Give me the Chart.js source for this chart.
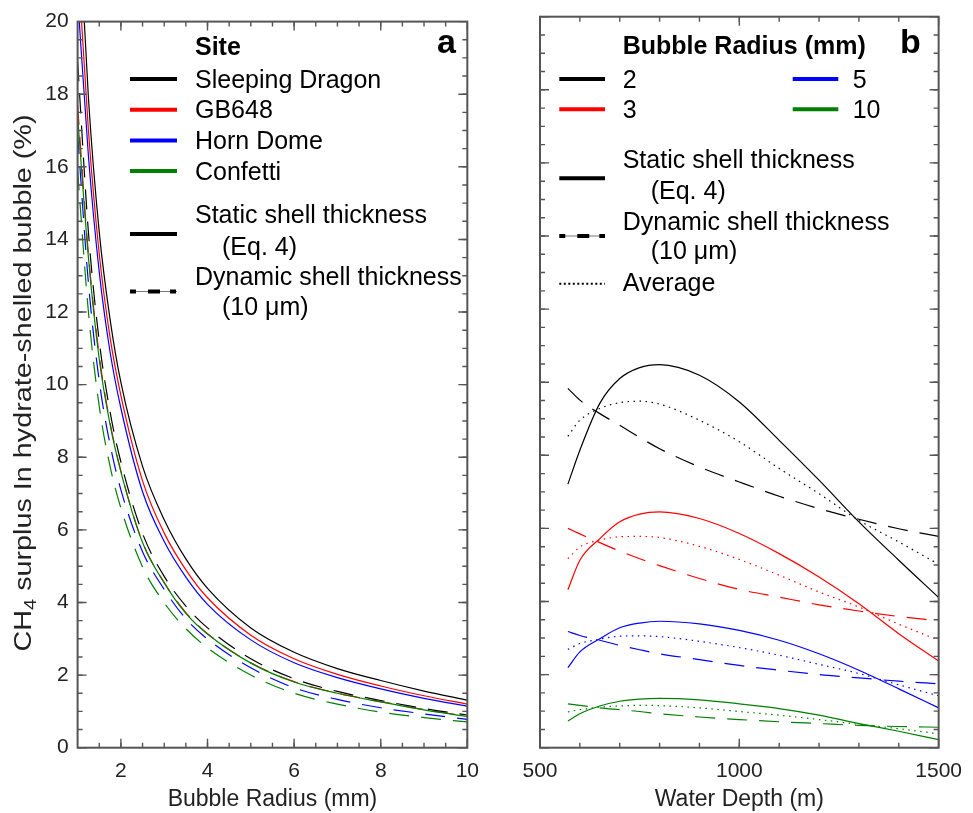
<!DOCTYPE html>
<html>
<head>
<meta charset="utf-8">
<script src="https://cdn.jsdelivr.net/npm/chart.js@4.4.1/dist/chart.umd.min.js"></script>
<style>
  body { margin: 0; background: #fff; }
  #wrap { position: relative; width: 973px; height: 813px; }
  #chartA { position: absolute; left: 0; top: 0; }
  #chartB { position: absolute; left: 490px; top: 0; }
</style>
</head>
<body>
<div id="wrap">
  <canvas id="chartA" width="490" height="813"></canvas>
  <canvas id="chartB" width="483" height="813"></canvas>
</div>
<script>
/* ---- panel a: CH4 surplus vs bubble radius, per site ---- */
const radius = [1, 1.25, 1.5, 1.75, 2, 2.5, 3, 3.5, 4, 5, 6, 7, 8, 9, 10];
const sites = ['Sleeping Dragon', 'GB648', 'Horn Dome', 'Confetti'];
const staticSD = [23.5, 17.9, 14.2, 11.8, 10.06, 7.75, 6.28, 5.2, 4.39, 3.30, 2.63, 2.18, 1.85, 1.56, 1.31];
const staticGB = [21.8, 17.0, 13.6, 11.3, 9.7, 7.35, 5.91, 4.9, 4.13, 3.10, 2.45, 2.02, 1.70, 1.43, 1.20];
const staticHD = [20.7, 16.3, 13.1, 10.9, 9.35, 7.05, 5.68, 4.7, 3.95, 2.97, 2.34, 1.93, 1.62, 1.36, 1.14];
const staticCF = [17.4, 13.5, 10.7, 8.9, 7.6, 5.65, 4.54, 3.7, 3.13, 2.33, 1.81, 1.50, 1.26, 1.04, 0.86];
const dynamicSD = [18.9, 14.2, 11.2, 9.25, 7.87, 5.9, 4.72, 3.9, 3.30, 2.45, 1.90, 1.55, 1.30, 1.08, 0.90];
const dynamicGB = [17.7, 13.6, 10.8, 8.95, 7.62, 5.66, 4.55, 3.72, 3.14, 2.34, 1.82, 1.50, 1.27, 1.05, 0.87];
const dynamicHD = [16.9, 12.8, 10.1, 8.35, 7.1, 5.4, 4.36, 3.55, 2.99, 2.2, 1.65, 1.33, 1.10, 0.93, 0.78];
const dynamicCF = [15.9, 12.0, 9.4, 7.75, 6.6, 4.98, 3.99, 3.28, 2.75, 2.0, 1.50, 1.20, 0.98, 0.83, 0.71];

/* ---- panel b: CH4 surplus vs water depth, per bubble radius ---- */
const depth = [570, 600, 650, 700, 750, 800, 900, 1000, 1100, 1200, 1300, 1400, 1500];
const radii = ['2', '3', '5', '10'];
const static2 = [7.21, 8.14, 9.42, 10.1, 10.4, 10.48, 10.19, 9.46, 8.41, 7.32, 6.18, 5.13, 4.11];
const dynamic2 = [9.83, 9.51, 9.14, 8.82, 8.49, 8.18, 7.68, 7.27, 6.88, 6.54, 6.25, 5.99, 5.78];
const average2 = [8.52, 8.96, 9.28, 9.44, 9.48, 9.40, 8.96, 8.37, 7.64, 6.95, 6.22, 5.63, 5.02];
const static3 = [4.32, 5.13, 5.72, 6.18, 6.39, 6.45, 6.27, 5.86, 5.31, 4.67, 3.94, 3.12, 2.37];
const dynamic3 = [6.00, 5.85, 5.61, 5.38, 5.17, 4.98, 4.63, 4.33, 4.12, 3.91, 3.74, 3.59, 3.47];
const average3 = [5.17, 5.49, 5.68, 5.77, 5.78, 5.75, 5.51, 5.15, 4.72, 4.26, 3.85, 3.38, 2.94];
const static5 = [2.19, 2.62, 2.98, 3.28, 3.41, 3.46, 3.39, 3.21, 2.94, 2.57, 2.12, 1.61, 1.09];
const dynamic5 = [3.18, 3.07, 2.94, 2.80, 2.68, 2.57, 2.41, 2.25, 2.12, 2.00, 1.91, 1.82, 1.75];
const average5 = [2.69, 2.85, 2.97, 3.05, 3.06, 3.04, 2.91, 2.74, 2.53, 2.28, 2.03, 1.72, 1.42];
const static10 = [0.73, 0.93, 1.14, 1.27, 1.33, 1.35, 1.31, 1.20, 1.07, 0.89, 0.66, 0.45, 0.22];
const dynamic10 = [1.20, 1.16, 1.09, 1.04, 0.99, 0.93, 0.84, 0.77, 0.71, 0.66, 0.61, 0.58, 0.56];
const average10 = [0.98, 1.04, 1.11, 1.14, 1.16, 1.15, 1.09, 0.99, 0.89, 0.77, 0.64, 0.52, 0.38];

/* ticks */
const xTicksA = [2, 4, 6, 8, 10];
const xTicksB = [500, 1000, 1500];
const yTicks = [0, 2, 4, 6, 8, 10, 12, 14, 16, 18, 20];

const colors = ['#000000', '#ff0000', '#0000ff', '#008000'];
const FONT = 'Liberation Sans, Arial, Helvetica, sans-serif';
const DASH = [20, 12];
const DOT = [1.5, 4.5];

function range(a, b, step){
  const out = [];
  for (let v = a; v <= b + 1e-9; v += step) out.push(+v.toFixed(4));
  return out;
}

function lineSet(label, xs, ys, color, dash){
  return {
    label: label,
    data: xs.map((x, i) => ({x: x, y: ys[i]})),
    borderColor: color,
    borderWidth: 1.2,
    borderDash: dash || [],
    pointRadius: 0,
    fill: false,
    cubicInterpolationMode: 'monotone'
  };
}

/* frame with inward ticks on all four sides */
const frameTicks = {
  id: 'frameTicks',
  afterDatasetsDraw(chart, args, opts){
    const {ctx, chartArea: a, scales: {x, y}} = chart;
    ctx.save();
    ctx.strokeStyle = '#555';
    ctx.lineWidth = 1.4;
    const mark = (scale, vals, len) => {
      vals.forEach(v => {
        const p = scale.getPixelForValue(v);
        ctx.beginPath();
        if (scale.isHorizontal()){
          ctx.moveTo(p, a.bottom); ctx.lineTo(p, a.bottom - len);
          ctx.moveTo(p, a.top); ctx.lineTo(p, a.top + len);
        } else {
          ctx.moveTo(a.left, p); ctx.lineTo(a.left + len, p);
          ctx.moveTo(a.right, p); ctx.lineTo(a.right - len, p);
        }
        ctx.stroke();
      });
    };
    mark(x, opts.xMinor, 5);
    mark(x, opts.xMajor, 9);
    mark(y, opts.yMinor, 5);
    mark(y, opts.yMajor, 9);
    ctx.lineWidth = 2;
    ctx.strokeRect(a.left, a.top, a.width, a.height);
    ctx.restore();
  }
};

function key(ctx, x1, x2, y, color, dash, width){
  ctx.save();
  ctx.strokeStyle = color;
  ctx.lineWidth = width || 4;
  ctx.setLineDash(dash || []);
  ctx.beginPath(); ctx.moveTo(x1, y); ctx.lineTo(x2, y); ctx.stroke();
  ctx.restore();
}

function dynKey(ctx, x1, x2, y){
  key(ctx, x1, x2, y, '#777', [], 1);
  key(ctx, x1, x2, y, '#000', [6, 12, 12, 10], 4);
}

function txt(ctx, s, x, y, size, bold){
  ctx.font = (bold ? 'bold ' : '') + size + 'px ' + FONT;
  ctx.fillStyle = '#000';
  ctx.textAlign = 'left';
  ctx.textBaseline = 'alphabetic';
  ctx.fillText(s, x, y);
}

const legendA = {
  id: 'legendA',
  afterDraw(chart){
    const ctx = chart.ctx;
    ctx.save();
    txt(ctx, 'Site', 195, 55, 25, true);
    sites.forEach((s, i) => {
      key(ctx, 130, 177, 79 + i * 30.7, colors[i]);
      txt(ctx, s, 195, 87.5 + i * 30.7, 25);
    });
    key(ctx, 130, 177, 234, '#000');
    txt(ctx, 'Static shell thickness', 195, 223, 25);
    txt(ctx, '(Eq. 4)', 222, 255, 25);
    dynKey(ctx, 130, 177, 291.5);
    txt(ctx, 'Dynamic shell thickness', 195, 285, 25);
    txt(ctx, '(10 \u03BCm)', 222, 315, 25);
    txt(ctx, 'a', 437, 53, 34, true);

    // y axis title, stretched along its length like the reference
    ctx.translate(31, 383);
    ctx.rotate(-Math.PI / 2);
    ctx.font = '23px ' + FONT;
    const w1 = ctx.measureText('CH').width;
    const rest = ' surplus In hydrate-shelled bubble (%)';
    const w3 = ctx.measureText(rest).width;
    ctx.font = '16px ' + FONT;
    const w2 = ctx.measureText('4').width;
    const total = w1 + w2 + w3;
    ctx.scale(537 / total, 1);
    ctx.fillStyle = '#222';
    ctx.textBaseline = 'alphabetic';
    let px = -total / 2;
    ctx.font = '23px ' + FONT;
    ctx.fillText('CH', px, 0); px += w1;
    ctx.font = '16px ' + FONT;
    ctx.fillText('4', px, 5); px += w2;
    ctx.font = '23px ' + FONT;
    ctx.fillText(rest, px, 0);
    ctx.restore();
  }
};

const legendB = {
  id: 'legendB',
  afterDraw(chart){
    const ctx = chart.ctx;
    const o = 490;
    ctx.save();
    txt(ctx, 'Bubble Radius (mm)', 622.7 - o, 54.3, 25, true);
    txt(ctx, 'b', 900 - o, 53.3, 34, true);
    key(ctx, 559.3 - o, 605 - o, 79, colors[0]);
    txt(ctx, radii[0], 622.7 - o, 87.5, 25);
    key(ctx, 559.3 - o, 605 - o, 109.3, colors[1]);
    txt(ctx, radii[1], 622.7 - o, 118, 25);
    key(ctx, 792.7 - o, 838.3 - o, 79, colors[2]);
    txt(ctx, radii[2], 852.7 - o, 87.5, 25);
    key(ctx, 792.7 - o, 838.3 - o, 109.3, colors[3]);
    txt(ctx, radii[3], 852.7 - o, 118, 25);
    key(ctx, 559.3 - o, 605 - o, 178.3, '#000');
    txt(ctx, 'Static shell thickness', 622.7 - o, 168, 25);
    txt(ctx, '(Eq. 4)', 650.7 - o, 199, 25);
    dynKey(ctx, 559.3 - o, 605 - o, 236);
    txt(ctx, 'Dynamic shell thickness', 622.7 - o, 230, 25);
    txt(ctx, '(10 \u03BCm)', 650.7 - o, 259, 25);
    key(ctx, 559.3 - o, 605 - o, 283.7, '#000', [2, 2.5], 2);
    txt(ctx, 'Average', 622.7 - o, 291, 25);
    ctx.restore();
  }
};

function axisOpts(min, max, ticks, showLabels, fit){
  return {
    type: 'linear',
    min: min,
    max: max,
    grid: {display: false, drawTicks: false},
    border: {display: false},
    afterBuildTicks: s => { s.ticks = ticks.map(v => ({value: v})); },
    afterFit: fit,
    ticks: {
      display: showLabels,
      autoSkip: false,
      maxRotation: 0,
      color: '#222',
      font: {family: FONT, size: 21},
      padding: 9,
      callback: v => String(v)
    }
  };
}

function baseOptions(padRight, xScale, yScale, tickCfg){
  return {
    responsive: false,
    animation: false,
    events: [],
    layout: {padding: {top: 16.7, right: padRight, left: 0, bottom: 0}},
    plugins: {legend: {display: false}, tooltip: {enabled: false}, frameTicks: tickCfg},
    scales: {x: xScale, y: yScale}
  };
}

/* panel a */
const xA = axisOpts(1, 10, xTicksA, true, s => { s.height = 65.3; });
xA.ticks.padding = 11;
xA.title = {display: true, text: 'Bubble Radius (mm)', color: '#222', font: {family: FONT, size: 23}, padding: {top: 0, bottom: 0}};
const yA = axisOpts(0, 20, yTicks, true, s => { s.width = 77.6; });

const dsA = [];
[staticSD, staticGB, staticHD, staticCF].forEach((d, i) => dsA.push(lineSet(sites[i] + ' static', radius, d, colors[i])));
[dynamicSD, dynamicGB, dynamicHD, dynamicCF].forEach((d, i) => dsA.push(lineSet(sites[i] + ' dynamic', radius, d, colors[i], DASH)));

new Chart(document.getElementById('chartA'), {
  type: 'line',
  data: {datasets: dsA},
  options: baseOptions(13, xA, yA, {
    xMajor: xTicksA, xMinor: range(1.5, 9.5, 0.5),
    yMajor: yTicks, yMinor: range(0.5, 19.5, 0.5)
  }),
  plugins: [frameTicks, legendA]
});

/* panel b */
const xB = axisOpts(500, 1500, xTicksB, true, s => { s.height = 65.3; });
xB.ticks.padding = 11;
xB.title = {display: true, text: 'Water Depth (m)', color: '#222', font: {family: FONT, size: 23}, padding: {top: 0, bottom: 0}};
const yB = axisOpts(0, 20, yTicks, false, s => { s.width = 50; });

const dsB = [];
[static2, static3, static5, static10].forEach((d, i) => dsB.push(lineSet(radii[i] + ' mm static', depth, d, colors[i])));
[dynamic2, dynamic3, dynamic5, dynamic10].forEach((d, i) => dsB.push(lineSet(radii[i] + ' mm dynamic', depth, d, colors[i], DASH)));
[average2, average3, average5, average10].forEach((d, i) => dsB.push(lineSet(radii[i] + ' mm average', depth, d, colors[i], DOT)));

new Chart(document.getElementById('chartB'), {
  type: 'line',
  data: {datasets: dsB},
  options: baseOptions(33, xB, yB, {
    xMajor: xTicksB, xMinor: range(600, 1400, 100),
    yMajor: yTicks, yMinor: range(0.5, 19.5, 0.5)
  }),
  plugins: [frameTicks, legendB]
});
</script>
</body>
</html>
